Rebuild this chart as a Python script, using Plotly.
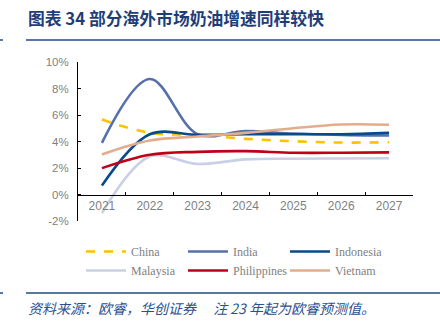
import plotly.graph_objects as go

years = ["2021", "2022", "2023", "2024", "2025", "2026", "2027"]

china = [5.66, 4.65, 4.5, 4.2, 4.02, 3.92, 3.95]
india = [3.9, 8.72, 4.55, 4.78, 4.6, 4.5, 4.45]
indonesia = [0.68, 4.55, 4.5, 4.55, 4.55, 4.55, 4.65]
malaysia = [-1.41, 2.87, 2.3, 2.65, 2.7, 2.72, 2.74]
philippines = [1.99, 3.0, 3.22, 3.27, 3.15, 3.15, 3.18]
vietnam = [3.02, 4.07, 4.38, 4.65, 5.0, 5.28, 5.26]

yticks = [-2, 0, 2, 4, 6, 8, 10]
yticklabels = [f"{v}%" for v in yticks]

series = [
    ("China", china, "#FFC000", "dash"),
    ("India", india, "#5570AA", "solid"),
    ("Indonesia", indonesia, "#0A4A8A", "solid"),
    ("Malaysia", malaysia, "#C9D0E5", "solid"),
    ("Philippines", philippines, "#C00018", "solid"),
    ("Vietnam", vietnam, "#E3AD8D", "solid"),
]

fig = go.Figure()
for name, vals, color, dash in series:
    fig.add_trace(go.Scatter(
        x=years, y=vals, name=name, mode="lines",
        line=dict(color=color, width=2.6, dash=dash, shape="spline", smoothing=1.0),
    ))

W, H = 440, 332
L, R, T, B = 78, 27, 62, 111
PW, PH = W - L - R, H - T - B


def px_x(x):
    return (x - L) / PW


def px_y(y):
    return (H - B - y) / PH


navy = "#1F4A8A"
fig.update_layout(
    width=W, height=H,
    margin=dict(l=L, r=R, t=T, b=B, autoexpand=False),
    paper_bgcolor="white", plot_bgcolor="white",
    showlegend=True,
    legend=dict(
        orientation="h",
        xref="container", yref="container",
        x=81 / W, xanchor="left", y=1 - 237 / H, yanchor="top",
        font=dict(family="Liberation Serif, Times New Roman, serif", size=12, color="#7F7F7F"),
        entrywidth=47, entrywidthmode="pixels",
        tracegroupgap=0, itemwidth=40,
    ),
    xaxis=dict(
        type="category", range=[-0.5, 6.5],
        anchor="free", position=1 / 6,
        showline=True, linecolor="black", linewidth=1,
        ticks="inside", ticklen=3, tickcolor="black", tickson="boundaries",
        showgrid=False, zeroline=False,
        tickfont=dict(family="Liberation Sans, Arial, sans-serif", size=12, color="#7F7F7F"),
    ),
    yaxis=dict(
        range=[-2, 10], tickvals=yticks, ticktext=yticklabels,
        showline=True, linecolor="black", linewidth=1,
        ticks="inside", ticklen=3, tickcolor="black",
        showgrid=False, zeroline=False, ticklabelstandoff=6,
        tickfont=dict(family="Liberation Sans, Arial, sans-serif", size=11.5, color="#7F7F7F"),
    ),
)

# header and footer
fig.add_annotation(
    text="<b>图表 34 部分海外市场奶油增速同样较快</b>",
    xref="paper", yref="paper", x=px_x(26), y=px_y(18), xanchor="left", yanchor="middle",
    showarrow=False, font=dict(family="Noto Sans CJK SC", size=16.8, color="#1F3E78"),
)
fig.add_annotation(
    text="<i>资料来源：欧睿，华创证券　 注 23 年起为欧睿预测值。</i>",
    xref="paper", yref="paper", x=px_x(26), y=px_y(308), xanchor="left", yanchor="middle",
    showarrow=False, font=dict(family="Noto Sans CJK SC", size=14, color="#2B4F8F"),
)
for y0 in (40, 293):
    fig.add_shape(type="line", xref="paper", yref="paper",
                  x0=px_x(26), x1=px_x(440), y0=px_y(y0), y1=px_y(y0),
                  line=dict(color=navy, width=1.5))
    fig.add_shape(type="line", xref="paper", yref="paper",
                  x0=px_x(0), x1=px_x(3), y0=px_y(y0), y1=px_y(y0),
                  line=dict(color=navy, width=1.5))

fig.write_html("out.html")
